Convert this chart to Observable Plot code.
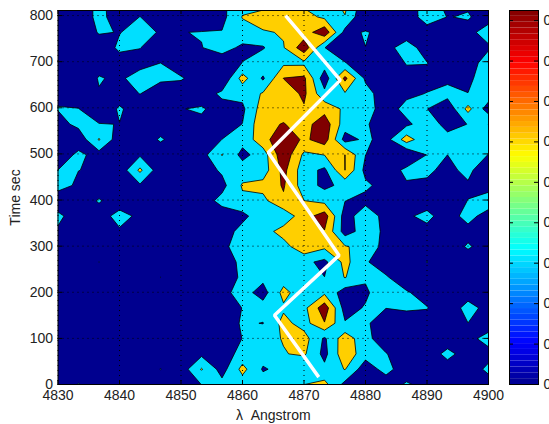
<!DOCTYPE html>
<html><head><meta charset="utf-8">
<script src="https://cdn.jsdelivr.net/npm/d3@7"></script>
<script src="https://cdn.jsdelivr.net/npm/@observablehq/plot@0.6"></script>
<style>html,body{margin:0;padding:0;background:#fff;overflow:hidden}#c{position:relative;width:549px;height:424px}#c svg{position:absolute;left:0;top:0}</style>
</head><body><div id="c"></div>
<script>
// Intensity grid (units of one contour step), wavelength columns left to right, bottom row first
const r00=[.3,1.05,.4,.4,.4,.4,.4,1.01,1.3,1.5,1.5,1.6,1.99,2.3,.7,.3,.35,1.15,.6,.5,.5,.6];
const r01=[.4,.4,.4,.4,.4,1.02,.44,2.08,.6,2.3,.9,1.3,1.01,1.25,2.05,.4,1.4,.3,.5,.6,.5,1.2];
const r02=[.4,.4,.4,.4,.4,.4,.4,.78,.4,1.4,1.4,1.95,2.15,.7,2.7,1.4,1.05,.4,.5,1.25,.6,.7];
const r03=[.4,.4,.4,.4,.4,.4,.4,.4,.4,1.02,1.7,2.05,2.4,.85,2.6,1.3,.4,.4,.5,.5,.72,1.35];
const r04=[.4,.4,.4,.4,.4,.4,.4,.4,.4,1.12,.97,2.3,1.6,2.95,1.09,1.2,.3,.4,.5,.4,.99,.5];
const r05=[.4,.4,.4,.4,.4,.4,.4,.4,.5,1.02,1.4,1.85,1.72,3.6,.55,1.1,1.02,1.15,1.05,.3,1.4,.63];
const r06=[.4,.4,.4,.4,.4,.4,.4,.4,.7,1.4,.6,2.3,1.4,1.8,.5,.8,1.8,1.1,.6,.5,.5,.5];
const r07=[.4,.4,.4,.4,.4,1.01,.4,.4,.5,1.15,1.25,1.55,1.5,1.01,2.05,1.15,1.1,.4,.4,.4,.4,.4];
const r08=[.4,.4,1.01,.4,.4,.4,.4,.4,.45,1.25,1.5,1.3,1.23,.75,2.3,1.1,.5,.4,1.02,.5,.5,.5];
const r09=[.4,.4,.4,.4,.4,.4,.4,.4,.6,1.8,1.8,1.6,2.7,2.2,2.1,1.6,.66,.4,.4,.5,1.1,.6];
const r10=[.85,.4,.4,.86,.4,.4,.4,.4,.4,1.4,1.57,2.4,2.9,2.95,.55,1.45,.82,.4,.77,.5,.72,.6];
const r11=[1.25,.4,.5,1.4,.75,.4,.4,.3,.5,.7,1.7,1.3,2.6,3.5,.5,1.65,.63,.89,1.2,.6,1.3,.62];
const r12=[.3,.4,1.1,.4,.4,.4,.4,.5,1.3,1.8,1.74,2.85,2.02,1.7,1.02,.7,.5,.4,.66,.5,1.02,1.5];
const r13=[1.4,.82,.4,.4,.87,.4,.4,.4,.7,2.1,2.3,3.1,1.5,.75,1.3,1.2,.6,.88,.8,.5,.85,.6];
const r14=[1.01,1.01,.9,.35,2.2,.35,.4,.5,1.15,1.5,1.5,3.3,1.4,.8,3.01,.7,.4,1.25,1.2,.7,1.3,.1];
const r15=[.3,1.25,.6,.4,.87,.4,.4,.6,2.05,.7,1.5,3.7,1.8,2.02,3.01,1.01,.3,0,1.03,1,1.7,.97];
const r16=[.4,.36,2.08,.4,.4,1.12,.5,.3,1.01,1.35,2.6,3.8,2.8,3.5,.6,1.2,.6,2.5,1.2,1.3,1.04,1.5];
const r17=[.65,1.25,1.05,.98,.4,.5,.4,.8,.5,1.02,2.77,3.05,2.6,3.6,1.45,1.15,.3,.8,1.5,.7,1.02,2.02];
const r18=[1.05,1.03,.15,1.15,.4,.4,.97,1.1,.63,.8,2.5,2.6,2.9,2.65,1.8,1.4,.55,1.3,1.02,.3,2.3,.5];
const r19=[.75,.4,.93,.45,1.03,.4,.4,.5,1.2,1.3,2.1,2.4,3.2,1.26,1.9,1.4,.4,.8,1.03,1.35,1.02,1.6];
const r20=[.4,.1,1.08,.8,1.5,1.2,1.1,.5,.1,2.4,.85,3.02,3.2,.4,3.25,.82,.4,.7,.7,.76,.7,1.8];
const r21=[.4,.3,.6,.53,.6,1,.4,.4,.4,1.02,1.8,1.8,1.79,1.5,1.05,.3,.4,1.05,1.03,.5,.6,1.4];
const r22=[.4,.3,.3,1.2,1.03,.4,.4,.97,1.4,.8,.9,1.94,3.6,1.02,.3,.99,.65,1.5,.5,.4,.5,.9];
const r23=[.4,.1,1.1,.96,1.4,.9,.97,1.05,1.05,1.6,1.9,2.08,2.5,3.7,.65,1.1,.6,.4,.6,.5,.8,1.3];
const r24=[.4,.3,1.3,.5,1.02,.4,.3,.1,.7,2.05,2.5,2.8,2.4,1.8,1.95,0,.4,.5,1.4,.98,1.05,.74];
const r25=[.4,.3,1.3,.4,.5,.4,.3,.3,.8,1.6,1.4,2.6,1.7,1.5,2.3,.3,.4,.4,1.5,.7,.9,.6];
const rows=[r00,r01,r02,r03,r04,r05,r06,r07,r08,r09,r10,r11,r12,r13,r14,r15,r16,r17,r18,r19,r20,r21,r22,r23,r24,r25];
const levelStep=0.3;
const thresholds=[0.3,0.6,0.9];
const fills=["#00DFFF","#FFCF00","#800000"];
const baseFill="#00008F";
const lambdaStart=4830, lambdaStep=70/21;
const timeStep=33.2;
const trackLambda=[4867,4875.9,4864.2,4875.7,4865.2,4872.4];
const trackTime=[800,660,503,280,150,16];
const xTicks=[4830,4840,4850,4860,4870,4880,4890,4900];
const yTicks=[0,100,200,300,400,500,600,700,800];
const barTicks=[0,0.1,0.2,0.3,0.4,0.5,0.6,0.7,0.8,0.9];
const barMax=0.925;
const jetStops=["#00008F","#0000FF","#00FFFF","#FFFF00","#FF0000","#800000"];
const jetAt=[0,0.111,0.361,0.611,0.861,1].map(d=>d*barMax);

const font="'Liberation Sans',Arial,sans-serif";
const values=rows.flat().map(v=>v*levelStep);
const W=549,H=424;
const main=Plot.plot({
  width:W,height:H,marginLeft:57.5,marginRight:61,marginTop:10,marginBottom:40,
  style:{fontFamily:font,fontSize:"14px",background:"transparent",color:"#222"},
  x:{domain:[4830,4900],ticks:xTicks},
  y:{domain:[0,811],ticks:yTicks},
  color:{type:"ordinal",domain:thresholds,range:fills},
  marks:[
    Plot.frame({fill:baseFill,stroke:null}),
    Plot.contour(values,{
      width:22,height:26,
      x1:lambdaStart-lambdaStep/2,x2:lambdaStart+21.5*lambdaStep,
      y1:-timeStep/2,y2:25.5*timeStep,
      value:Plot.identity,thresholds,fill:"value",stroke:"#000",strokeWidth:0.8,clip:true
    }),
    Plot.gridX(xTicks,{stroke:"#000",strokeOpacity:1,strokeWidth:1,strokeDasharray:"1,4"}),
    Plot.gridY(yTicks,{stroke:"#000",strokeOpacity:1,strokeWidth:1,strokeDasharray:"1,4"}),
    Plot.line(trackLambda.map((l,i)=>[l,trackTime[i]]),{x:d=>d[0],y:d=>d[1],stroke:"#fff",strokeWidth:3.5,strokeLinejoin:"bevel",strokeLinecap:"butt"}),
    Plot.tickX(xTicks,{x:d=>d,insetTop:370,stroke:"#000"}),
    Plot.tickX(xTicks,{x:d=>d,insetBottom:370,stroke:"#000"}),
    Plot.tickY(yTicks,{y:d=>d,insetLeft:426,stroke:"#000"}),
    Plot.tickY(yTicks,{y:d=>d,insetRight:426,stroke:"#000"}),
    Plot.frame({stroke:"#000",strokeWidth:1}),
    Plot.axisX(xTicks,{anchor:"bottom",tickSize:0,tickPadding:6,tickFormat:d=>String(d),label:"λ  Angstrom",labelAnchor:"center",labelArrow:"none",labelOffset:35}),
    Plot.axisY(yTicks,{anchor:"left",tickSize:0,tickPadding:5,tickFormat:d=>String(d),label:"Time sec",labelAnchor:"center",labelArrow:"none",labelOffset:48})
  ]
});
const steps=d3.range(64);
const ramp=d3.scaleLinear().domain(jetAt).range(jetStops);
const bar=Plot.plot({
  width:W,height:H,marginLeft:509,marginRight:11,marginTop:10,marginBottom:40,
  style:{fontFamily:font,fontSize:"14px",background:"transparent",color:"#222"},
  y:{domain:[0,barMax],ticks:barTicks},
  marks:[
    Plot.rectY(steps,{y1:i=>i/64*barMax,y2:i=>(i+1)/64*barMax,fill:i=>ramp((i+.5)/64*barMax)}),
    Plot.tickY(barTicks,{y:d=>d,insetLeft:25,stroke:"#000"}),
    Plot.tickY(barTicks,{y:d=>d,insetRight:25,stroke:"#000"}),
    Plot.frame({stroke:"#000",strokeWidth:1}),
    Plot.axisY(barTicks,{anchor:"right",tickSize:0,tickPadding:5,tickFormat:d=>String(d),label:null})
  ]
});
document.getElementById("c").append(main,bar);
</script></body></html>
